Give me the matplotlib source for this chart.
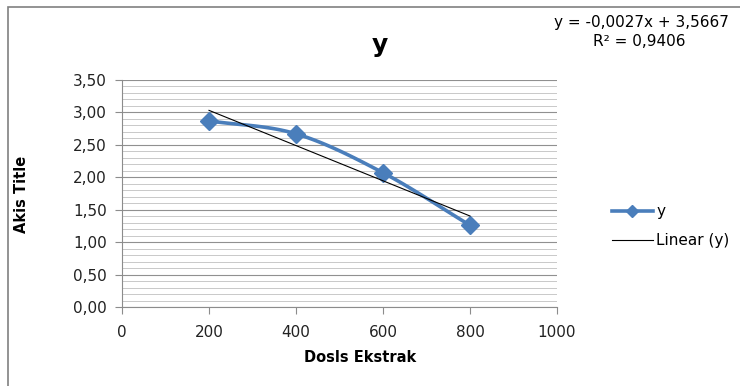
import numpy as np
import matplotlib
matplotlib.use("Agg")
import matplotlib.pyplot as plt
from matplotlib.lines import Line2D
from matplotlib.patches import Rectangle

plt.rcParams['font.family'] = ['DejaVu Sans']

x_vals = [200, 400, 600, 800]
y_vals = [2.87, 2.67, 2.07, 1.26]
x_ticks = [0, 200, 400, 600, 800, 1000]
y_ticks = [0.0, 0.5, 1.0, 1.5, 2.0, 2.5, 3.0, 3.5]
title = "y"
x_label = "Dosls Ekstrak"
y_label = "Akis Title"
series_label = "y"
trend_label = "Linear (y)"
eq_text = "y = -0,0027x + 3,5667"
r2_text = "R² = 0,9406"

def catmull_rom(xs, ys, n=30):
    xs = np.asarray(xs, float); ys = np.asarray(ys, float)
    px = np.concatenate([[2*xs[0]-xs[1]], xs, [2*xs[-1]-xs[-2]]])
    py = np.concatenate([[2*ys[0]-ys[1]], ys, [2*ys[-1]-ys[-2]]])
    ox, oy = [], []
    for i in range(1, len(px)-2):
        t = np.linspace(0, 1, n, endpoint=(i == len(px)-3))
        for arr, out in ((px, ox), (py, oy)):
            p0, p1, p2, p3 = arr[i-1], arr[i], arr[i+1], arr[i+2]
            out.extend(0.5*((2*p1) + (-p0+p2)*t + (2*p0-5*p1+4*p2-p3)*t**2 + (-p0+3*p1-3*p2+p3)*t**3))
    return np.array(ox), np.array(oy)

fig = plt.figure(figsize=(7.40, 3.86), dpi=100)
fig.patches.append(Rectangle((8/740, -0.1), 1.2, 1 - 7/386 + 0.1, transform=fig.transFigure,
                             fill=False, edgecolor='#808080', linewidth=1.2))
ax = fig.add_axes([122/740, 1-307/386, 435/740, 227/386])

ax.set_xlim(0, 1000)
ax.set_ylim(0, 3.5)
ax.set_xticks(x_ticks)
ax.set_yticks(y_ticks)
ax.set_yticks(np.arange(0, 3.51, 0.1), minor=True)
ax.set_xticklabels([str(v) for v in x_ticks])
ax.set_yticklabels([f"{v:.2f}".replace('.', ',') for v in y_ticks])
ax.grid(True, which='major', axis='y', color='#909090', linewidth=0.8)
ax.grid(True, which='minor', axis='y', color='#c0c0c0', linewidth=0.6)
ax.set_axisbelow(True)
for s in ('top', 'right'):
    ax.spines[s].set_visible(False)
for s in ('left', 'bottom'):
    ax.spines[s].set_color('#8c8c8c')
ax.tick_params(axis='both', which='major', direction='out', length=5, color='#8c8c8c',
               labelsize=11, labelcolor='#222222', pad=6)
ax.tick_params(axis='y', which='minor', length=0)
ax.tick_params(axis='x', pad=8)

sx, sy = catmull_rom(x_vals, y_vals)
ax.plot(sx, sy, color='#4a7ebb', linewidth=2.6, solid_capstyle='round')
ax.plot(x_vals, y_vals, linestyle='none', marker='D', markersize=9, color='#4a7ebb')

coef = np.polyfit(x_vals, y_vals, 1)
tx = np.array([x_vals[0], x_vals[-1]])
ax.plot(tx, np.polyval(coef, tx), color='black', linewidth=0.8)

fig.text(380/740, 1-45/386, title, ha='center', va='center', fontsize=18, fontweight='bold')
fig.text(641/740, 1-22/386, eq_text, ha='center', va='center', fontsize=11)
fig.text(639/740, 1-42/386, r2_text, ha='center', va='center', fontsize=11)
fig.text(360/740, 1-357/386, x_label, ha='center', va='center', fontsize=10.5, fontweight='bold')
fig.text(22/740, 1-194/386, y_label, ha='center', va='center', fontsize=10.5, fontweight='bold', rotation=90)

handles = [Line2D([], [], color='#4a7ebb', linewidth=2.6, marker='D', markersize=6),
           Line2D([], [], color='black', linewidth=0.8)]
fig.legend(handles, [series_label, trend_label], loc='center left',
           bbox_to_anchor=(598/740, 1-226/386), frameon=False, fontsize=11,
           handlelength=2.7, handletextpad=0.2, labelspacing=0.9)

fig.savefig("out.png", dpi=100)
